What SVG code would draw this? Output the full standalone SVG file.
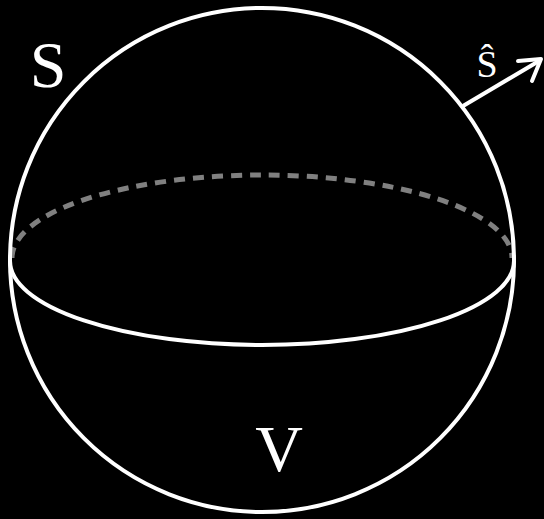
<svg xmlns="http://www.w3.org/2000/svg" width="544" height="519" viewBox="0 0 544 519">
<style>
.w{fill:none;stroke:#fff;stroke-width:4}
.d{fill:none;stroke:#808080;stroke-width:5;stroke-dasharray:11 8}
.t{fill:#fff;font-family:"Liberation Serif","Times New Roman",serif;text-anchor:middle}
</style>
<rect width="544" height="519" fill="#000"/>
<g id="sphere">
<path class="d" d="M12,258 A250,83 0 0 1 512,258"/>
<circle class="w" cx="262" cy="260" r="252"/>
<path class="w" d="M10,261 A252,84 0 0 0 514,261"/>
</g>
<g id="connectors">
<path class="w" stroke-width="6" d="M463,106 L539,61"/>
<path class="w" stroke-width="6" stroke-linecap="round" stroke-linejoin="round" d="M518,61 L541,59 L532,81"/>
</g>
<g id="labels">
<text class="t" x="48" y="87" font-size="66">S</text>
<text class="t" x="487" y="77" font-size="38">Ŝ</text>
<text class="t" x="279" y="471" font-size="66">V</text>
</g>
</svg>
